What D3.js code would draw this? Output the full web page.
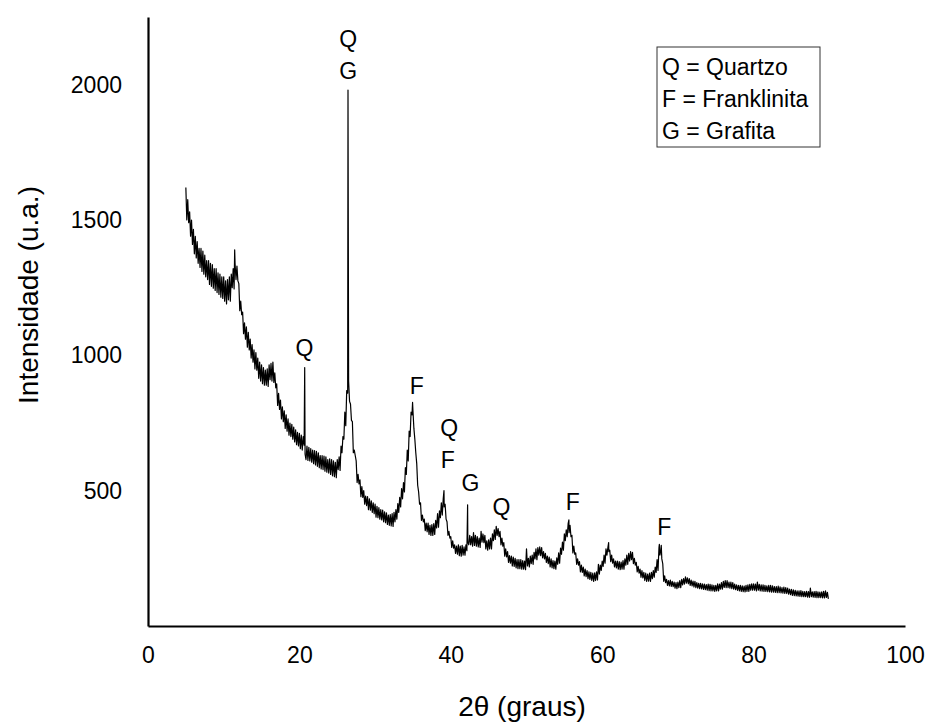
<!DOCTYPE html>
<html>
<head>
<meta charset="utf-8">
<script src="https://cdn.jsdelivr.net/npm/d3@7"></script>
<style>
  body { margin: 0; background: #fff; }
  text { font-family: Arial, "Liberation Sans", sans-serif; fill: #000; }
</style>
</head>
<body>
<div id="chart"></div>
<script>
// 2theta sampling grid of the trace (degrees)
const thetaStart = 5, thetaStep = 0.125;

// intensities (upper / lower edge of the noise band),
// one row per degree (5 .. 89)
const intensity = [
  1620, 1500, 1575, 1490, 1530, 1440, 1500, 1410,
  1465, 1375, 1440, 1360, 1420, 1340, 1395, 1325,
  1395, 1310, 1385, 1300, 1370, 1290, 1350, 1280,
  1350, 1262, 1340, 1255, 1335, 1248, 1320, 1240,
  1320, 1232, 1305, 1225, 1300, 1215, 1290, 1210,
  1290, 1200, 1275, 1190, 1280, 1205, 1290, 1200,
  1300, 1250, 1320, 1245, 1340, 1280, 1330, 1275,
  1265, 1165, 1200, 1150, 1160, 1080, 1120, 1060,
  1105, 1030, 1085, 1020, 1060, 990, 1040, 975,
  1020, 950, 1010, 945, 990, 915, 975, 905,
  965, 895, 955, 890, 945, 890, 950, 885,
  965, 910, 970, 905, 975, 900, 935, 880,
  895, 815, 860, 800, 835, 765, 810, 755,
  795, 730, 780, 720, 765, 705, 750, 700,
  745, 690, 735, 680, 725, 670, 715, 665,
  712, 655, 705, 650, 700, 668, 635, 615,
  665, 612, 660, 610, 655, 605, 650, 600,
  648, 595, 645, 590, 640, 585, 630, 580,
  630, 578, 628, 572, 625, 568, 615, 565,
  618, 560, 615, 555, 610, 552, 605, 548,
  615, 578, 625, 575, 665, 640, 700, 690,
  790, 740, 870, 860, 905, 830, 820, 760,
  755, 640, 650, 630, 610, 530, 560, 525,
  540, 478, 515, 475, 500, 450, 480, 445,
  478, 430, 470, 428, 462, 420, 455, 415,
  450, 402, 442, 400, 437, 395, 430, 392,
  428, 385, 422, 382, 418, 375, 410, 372,
  412, 370, 415, 368, 420, 385, 430, 395,
  452, 420, 475, 440, 508, 470, 530, 495,
  585, 560, 650, 610, 720, 700, 790, 780,
  795, 730, 690, 640, 600, 520, 495, 450,
  455, 390, 410, 385, 395, 352, 380, 348,
  380, 338, 372, 335, 375, 335, 378, 338,
  390, 362, 415, 365, 425, 400, 455, 410,
  470, 440, 450, 395, 385, 335, 350, 325,
  330, 290, 315, 288, 300, 268, 295, 265,
  300, 260, 295, 258, 298, 262, 292, 262,
  300, 278, 310, 300, 335, 300, 330, 295,
  345, 298, 335, 295, 330, 292, 325, 290,
  350, 310, 340, 308, 335, 285, 315, 280,
  318, 285, 325, 285, 340, 315, 355, 320,
  368, 335, 360, 330, 350, 300, 325, 295,
  308, 258, 285, 255, 275, 235, 260, 232,
  258, 222, 255, 220, 250, 215, 245, 212,
  245, 212, 245, 210, 242, 210, 240, 208,
  285, 222, 250, 218, 258, 230, 262, 228,
  272, 248, 285, 245, 290, 262, 292, 260,
  290, 252, 275, 248, 268, 235, 258, 230,
  255, 218, 248, 215, 242, 212, 240, 210,
  252, 228, 270, 232, 288, 265, 310, 280,
  340, 315, 355, 330, 378, 345, 372, 330,
  335, 270, 295, 265, 270, 228, 248, 225,
  238, 200, 225, 198, 218, 185, 210, 182,
  205, 175, 200, 172, 198, 168, 195, 165,
  196, 168, 200, 170, 228, 192, 225, 205,
  240, 220, 262, 232, 285, 262, 290, 275,
  280, 238, 262, 232, 248, 218, 240, 215,
  240, 210, 238, 208, 236, 210, 242, 210,
  248, 225, 262, 228, 268, 240, 275, 245,
  272, 230, 250, 225, 235, 200, 220, 195,
  210, 180, 205, 178, 198, 168, 195, 165,
  192, 166, 195, 165, 198, 175, 205, 180,
  218, 198, 245, 205, 290, 262, 280, 248,
  230, 165, 185, 160, 172, 150, 168, 148,
  170, 146, 165, 145, 162, 140, 160, 138,
  162, 142, 168, 142, 172, 152, 175, 155,
  182, 158, 178, 156, 175, 150, 170, 148,
  166, 144, 165, 142, 160, 140, 158, 138,
  158, 137, 156, 135, 155, 134, 153, 132,
  155, 131, 154, 130, 152, 130, 150, 128,
  150, 130, 156, 130, 155, 136, 160, 136,
  165, 143, 168, 142, 168, 142, 162, 140,
  162, 138, 160, 136, 155, 134, 152, 132,
  150, 130, 150, 128, 148, 127, 147, 126,
  150, 128, 152, 128, 154, 132, 156, 132,
  156, 132, 155, 130, 162, 132, 154, 130,
  152, 129, 152, 128, 150, 128, 148, 127,
  150, 126, 150, 125, 148, 125, 146, 124,
  146, 123, 147, 123, 145, 122, 142, 121,
  144, 120, 142, 120, 140, 118, 136, 116,
  135, 113, 134, 112, 132, 111, 130, 110,
  130, 109, 131, 108, 128, 108, 127, 108,
  128, 107, 127, 106, 140, 108, 126, 107,
  127, 106, 128, 105, 126, 105, 125, 105,
  126, 104, 128, 104, 130, 106, 124, 100
];

// narrow reflections that fall between grid points
const peakTheta = [11.45, 20.7, 26.42, 34.95, 39.1, 42.22, 55.6, 60.85, 67.55, 67.8];
const peakIntensity = [1390, 955, 1980, 826, 500, 448, 392, 308, 302, 298];

// phase labels
const labelText = ["Q", "Q", "G", "F", "Q", "F", "G", "Q", "F", "F"];
const labelTheta = [20.65, 26.45, 26.45, 35.5, 39.8, 39.6, 42.6, 46.7, 56.1, 68.2];
const labelIntensity = [997, 2139, 2021, 857, 702, 584, 499, 410, 428, 336];

const legendLines = ["Q = Quartzo", "F = Franklinita", "G = Grafita"];

const xTicks = [0, 20, 40, 60, 80, 100];
const yTicks = [500, 1000, 1500, 2000];

const W = 926, H = 725;
const font = "Arial, 'Liberation Sans', sans-serif";

const svg = d3.select("#chart").append("svg")
  .attr("width", W)
  .attr("height", H);

const x = d3.scaleLinear().domain([0, 100]).range([148, 905]);
const y = d3.scaleLinear().domain([0, 2250]).range([626, 17]);

// build the trace
let trace = intensity.map((v, i) => ({t: thetaStart + i * thetaStep, v: v}));
peakTheta.forEach((t, i) => trace.push({t: t, v: peakIntensity[i]}));
trace.sort((a, b) => a.t - b.t);

const line = d3.line().x(d => x(d.t)).y(d => y(d.v));

svg.append("path")
  .datum(trace)
  .attr("d", line)
  .attr("fill", "none")
  .attr("stroke", "#000")
  .attr("stroke-width", 1.2)
  .attr("stroke-linejoin", "round");

// axes
const xAxis = svg.append("g")
  .attr("transform", `translate(0,${y(0)})`)
  .call(d3.axisBottom(x).tickValues(xTicks).tickSize(0).tickPadding(21));
xAxis.select(".domain").attr("stroke", "#000").attr("stroke-width", 2.2);
xAxis.selectAll("text").style("font-size", "23px").style("font-family", font);

const yAxis = svg.append("g")
  .attr("transform", `translate(${x(0)},0)`)
  .call(d3.axisLeft(y).tickValues(yTicks).tickFormat(d3.format("d")).tickSize(0).tickPadding(26));
yAxis.select(".domain").attr("stroke", "#000").attr("stroke-width", 2.2);
yAxis.selectAll("text").style("font-size", "23px").style("font-family", font);

// axis titles
svg.append("text")
  .attr("x", 522).attr("y", 716)
  .attr("text-anchor", "middle")
  .style("font-size", "28px")
  .text("2\u03B8 (graus)");

svg.append("text")
  .attr("transform", "translate(38,295) rotate(-90)")
  .attr("text-anchor", "middle")
  .style("font-size", "28px")
  .text("Intensidade (u.a.)");

// peak labels
svg.selectAll(".lbl")
  .data(labelText)
  .enter().append("text")
  .attr("class", "lbl")
  .attr("x", (d, i) => x(labelTheta[i]))
  .attr("y", (d, i) => y(labelIntensity[i]))
  .attr("text-anchor", "middle")
  .style("font-size", "23px")
  .text(d => d);

// legend box
const lg = svg.append("g").attr("transform", "translate(657,47)");
lg.append("rect")
  .attr("width", 163).attr("height", 100)
  .attr("fill", "#fff")
  .attr("stroke", "#333")
  .attr("stroke-width", 1);
lg.selectAll("text")
  .data(legendLines)
  .enter().append("text")
  .attr("x", 5)
  .attr("y", (d, i) => 28 + i * 32)
  .style("font-size", "23px")
  .text(d => d);
</script>
</body>
</html>
